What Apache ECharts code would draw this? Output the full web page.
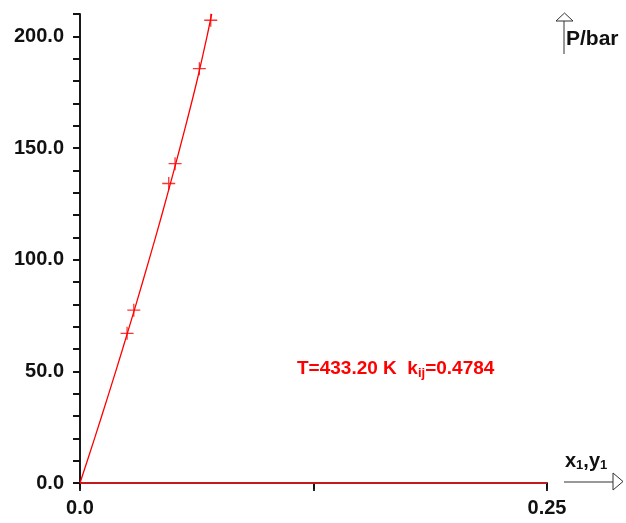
<!DOCTYPE html>
<html>
<head>
<meta charset="utf-8">
<script src="https://cdn.jsdelivr.net/npm/echarts@6/dist/echarts.min.js"></script>
<style>html,body{margin:0;padding:0;background:#fff}#c{width:626px;height:523px}</style>
</head>
<body>
<div id="c"></div>
<script>
// Calculated curve (liquid branch)
var curveX = [0, 0.0078, 0.0154, 0.0228, 0.0300, 0.0370, 0.0438, 0.0503, 0.0566, 0.0626, 0.0680, 0.0705];
var curveP = [0, 20, 40, 60, 80, 100, 120, 140, 160, 180, 200, 210];
// Vapor branch along the axis
var vaporX = [0, 0.25];
var vaporP = [0, 0];
// Experimental points
var expX = [0.0252, 0.0288, 0.0475, 0.0509, 0.0639, 0.0700];
var expP = [67.0, 77.4, 134.1, 143.0, 185.5, 207.2];
// Axis settings
var xTickLabels = {0: '0.0', 0.25: '0.25'};
var yLabelStep = 50;

var FONT = '"Liberation Sans", Arial, sans-serif';
var chart = echarts.init(document.getElementById('c'), null, {renderer: 'canvas'});

function pairs(xs, ys) { return xs.map(function (x, i) { return [x, ys[i]]; }); }

var axisLine = {show: true, lineStyle: {color: '#111', width: 1.6}};
var tickStyle = {color: '#111', width: 1.8};
chart.setOption({
  animation: false,
  backgroundColor: '#fff',
  grid: {left: 80, top: 14, width: 467, height: 469, containLabel: false},
  xAxis: [{
    type: 'value', min: 0, max: 0.25, interval: 0.125, position: 'bottom',
    axisLine: axisLine, splitLine: {show: false},
    axisTick: {show: true, inside: false, length: 8, lineStyle: tickStyle},
    axisLabel: {
      margin: 15, color: '#111', fontFamily: FONT, fontWeight: 'bold', fontSize: 20,
      formatter: function (v) { return xTickLabels[v] !== undefined ? xTickLabels[v] : ''; }
    }
  }, {
    type: 'value', min: 0, max: 0.25, interval: 0.125, position: 'top',
    axisLine: axisLine, splitLine: {show: false},
    axisTick: {show: true, inside: true, length: 6, lineStyle: tickStyle},
    axisLabel: {show: false}
  }],
  yAxis: [{
    type: 'value', min: 0, max: 210, interval: 10, position: 'left',
    axisLine: axisLine, splitLine: {show: false},
    axisTick: {show: true, inside: false, length: 7, lineStyle: tickStyle},
    axisLabel: {
      margin: 16, color: '#111', fontFamily: FONT, fontWeight: 'bold', fontSize: 20,
      formatter: function (v) { return v % yLabelStep === 0 ? v.toFixed(1) : ''; }
    }
  }, {
    type: 'value', min: 0, max: 210, interval: 10, position: 'right',
    axisLine: axisLine, splitLine: {show: false},
    axisTick: {show: true, inside: true, length: 7, lineStyle: tickStyle},
    axisLabel: {show: false}
  }],
  series: [{
    type: 'line', data: pairs(vaporX, vaporP), showSymbol: false, symbol: 'none',
    lineStyle: {color: '#c41a1a', width: 2}, z: 3
  }, {
    type: 'line', data: pairs(curveX, curveP), showSymbol: false, symbol: 'none', smooth: 0.3,
    lineStyle: {color: '#ff0000', width: 1.3}, z: 4
  }, {
    type: 'scatter', data: pairs(expX, expP),
    symbol: 'path://M5,0L5,10M0,5L10,5', symbolSize: 13,
    itemStyle: {color: 'rgba(0,0,0,0)', borderColor: '#ff0000', borderWidth: 1.3}, z: 5
  }],
  graphic: [
    // P/bar arrow
    {type: 'line', shape: {x1: 564, y1: 21, x2: 564, y2: 54}, style: {stroke: '#333', lineWidth: 1}},
    {type: 'polygon', shape: {points: [[556, 21], [564.5, 13], [573, 21]]}, style: {fill: '#fff', stroke: '#333', lineWidth: 1}},
    {type: 'text', x: 566, y: 39, style: {text: 'P/bar', font: 'bold 21px ' + FONT, fill: '#111', textVerticalAlign: 'middle'}},
    // x arrow
    {type: 'line', shape: {x1: 564, y1: 482, x2: 613, y2: 482}, style: {stroke: '#333', lineWidth: 1}},
    {type: 'polygon', shape: {points: [[613, 473], [623, 481.5], [613, 490]]}, style: {fill: '#fff', stroke: '#333', lineWidth: 1}},
    {type: 'text', x: 565, y: 461, style: {
      text: '{m|x}{s|1}{m|,y}{s|1}', textVerticalAlign: 'middle',
      rich: {
        m: {font: 'bold 20px ' + FONT, fill: '#111'},
        s: {font: 'bold 13px ' + FONT, fill: '#111', padding: [8, 0, 0, 0]}
      }
    }},
    // annotation
    {type: 'text', x: 297, y: 369, style: {
      text: '{m|T=433.20 K  k}{s|ij}{m|=0.4784}', textVerticalAlign: 'middle',
      rich: {
        m: {font: 'bold 19px ' + FONT, fill: '#ff0000'},
        s: {font: 'bold 13px ' + FONT, fill: '#ff0000', padding: [9, 0, 0, 0]}
      }
    }}
  ]
});
</script>
</body>
</html>
